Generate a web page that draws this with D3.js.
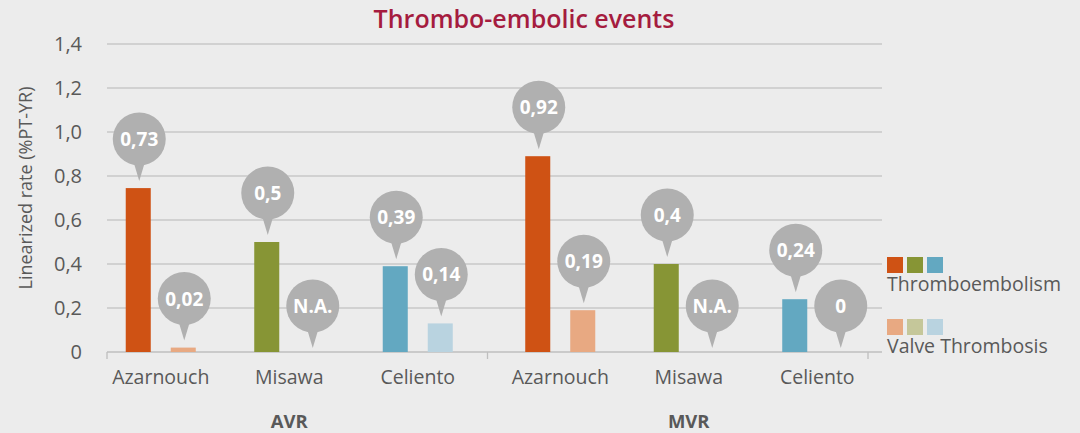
<!DOCTYPE html>
<html lang="en">
<head>
<meta charset="UTF-8" />
<title>Thrombo-embolic events</title>
<script src="https://cdn.jsdelivr.net/npm/d3@7"></script>
<style>
  body { margin: 0; background: #ececec; }
  svg { display: block; font-family: "Open Sans", sans-serif; }
  .grid line { stroke: #c9c9c9; stroke-width: 1.3; }
  .ytick text { fill: #595959; font-size: 20px; }
  .cat { fill: #595959; font-size: 19.5px; }
  .grp { fill: #595959; font-size: 18.5px; font-weight: bold; }
  .bubble text { fill: #fff; font-size: 19px; font-weight: bold; }
</style>
</head>
<body>
<script>
// data
var groups = ["AVR", "MVR"];
var studies = ["Azarnouch", "Misawa", "Celiento"];
var series = ["Thromboembolism", "Valve Thrombosis"];
// bar heights as drawn (linearized rate, %PT-YR)
var teAVR = [0.745, 0.5, 0.39];
var vtAVR = [0.02, 0, 0.13];
var teMVR = [0.89, 0.4, 0.24];
var vtMVR = [0.19, 0, 0];
// the text in the callouts
var teAVRLabels = ["0,73", "0,5", "0,39"];
var vtAVRLabels = ["0,02", "N.A.", "0,14"];
var teMVRLabels = ["0,92", "0,4", "0,24"];
var vtMVRLabels = ["0,19", "N.A.", "0"];
var yTicks = [0, 0.2, 0.4, 0.6, 0.8, 1.0, 1.2, 1.4];
var teColors = ["#cf5214", "#879535", "#63a8c1"];
var vtColors = ["#e8a982", "#c5c79a", "#b9d3e0"];

var w = 1080, h = 433;
var margin = { top: 44, right: 198, bottom: 81, left: 107 };

var svg = d3.select("body").append("svg")
  .attr("width", w)
  .attr("height", h);

var yScale = d3.scaleLinear()
  .domain([0, 1.4])
  .range([h - margin.bottom, margin.top]);

// one band per group, then one band per study inside it
var xGroup = d3.scaleBand()
  .domain(groups)
  .range([margin.left, 868]);

var xStudy = d3.scaleBand()
  .domain(studies)
  .range([0, 385.5]);

// the Excel layout leans each group's bars outward a little
var groupShift = { AVR: -8, MVR: 11 };

var xSeries = d3.scaleBand()
  .domain(series)
  .range([-45, 45])
  .paddingInner(0.444)
  .paddingOuter(0.222);

function center(g, s) {
  return xGroup(g) + (xGroup.bandwidth() - 385.5) / 2 + groupShift[g] + xStudy(s) + xStudy.bandwidth() / 2;
}

// grid lines
svg.append("g").attr("class", "grid")
  .selectAll("line")
  .data(yTicks.slice(1))
  .enter().append("line")
  .attr("x1", margin.left)
  .attr("x2", 882)
  .attr("y1", function(d) { return yScale(d); })
  .attr("y2", function(d) { return yScale(d); });

// y tick labels
svg.append("g").attr("class", "ytick")
  .selectAll("text")
  .data(yTicks)
  .enter().append("text")
  .attr("x", 82)
  .attr("y", function(d) { return yScale(d) + 7; })
  .attr("text-anchor", "end")
  .text(function(d) { return d === 0 ? "0" : d3.format(".1f")(d).replace(".", ","); });

// y axis title
svg.append("text")
  .attr("transform", "translate(32," + 188 + ") rotate(-90)")
  .attr("text-anchor", "middle")
  .attr("fill", "#595959")
  .attr("font-size", 18)
  .text("Linearized rate (%PT-YR)");

// x axis line and group ticks
var y0 = yScale(0);
svg.append("line")
  .attr("x1", margin.left).attr("x2", 882)
  .attr("y1", y0).attr("y2", y0)
  .attr("stroke", "#bfbfbf").attr("stroke-width", 1.3);

svg.selectAll(".gtick")
  .data([margin.left, xGroup("MVR"), xGroup("MVR") + xGroup.bandwidth()])
  .enter().append("line")
  .attr("class", "gtick")
  .attr("x1", function(d) { return d; })
  .attr("x2", function(d) { return d; })
  .attr("y1", y0).attr("y2", y0 + 7)
  .attr("stroke", "#bfbfbf").attr("stroke-width", 1.3);

// bars and callouts
var rows = [];
groups.forEach(function(g) {
  var te = g === "AVR" ? teAVR : teMVR;
  var vt = g === "AVR" ? vtAVR : vtMVR;
  var teL = g === "AVR" ? teAVRLabels : teMVRLabels;
  var vtL = g === "AVR" ? vtAVRLabels : vtMVRLabels;
  studies.forEach(function(s, i) {
    rows.push({ g: g, s: s, ser: series[0], v: te[i], label: teL[i], color: teColors[i] });
    rows.push({ g: g, s: s, ser: series[1], v: vt[i], label: vtL[i], color: vtColors[i] });
  });
});

svg.append("g").selectAll("rect")
  .data(rows.filter(function(d) { return d.v > 0; }))
  .enter().append("rect")
  .attr("x", function(d) { return center(d.g, d.s) + xSeries(d.ser); })
  .attr("width", xSeries.bandwidth())
  .attr("y", function(d) { return yScale(d.v); })
  .attr("height", function(d) { return y0 - yScale(d.v); })
  .attr("fill", function(d) { return d.color; });

var bubble = svg.append("g").selectAll(".bubble")
  .data(rows)
  .enter().append("g")
  .attr("class", "bubble")
  .attr("transform", function(d) {
    var cx = center(d.g, d.s) + xSeries(d.ser) + xSeries.bandwidth() / 2 + 1;
    var tip = d.v > 0 ? yScale(d.v) - 7 : y0 - 4;
    return "translate(" + cx + "," + (tip - 42) + ")";
  });

bubble.append("path")
  .attr("d", "M-6,22 L0,42 L6,22 Z")
  .attr("fill", "#b0b0b0");
bubble.append("circle")
  .attr("r", 26.5)
  .attr("fill", "#b0b0b0");
bubble.append("text")
  .attr("text-anchor", "middle")
  .attr("y", 7)
  .text(function(d) { return d.label; });

// category labels
var cats = [];
groups.forEach(function(g) { studies.forEach(function(s) { cats.push({ g: g, s: s }); }); });
svg.selectAll(".cat")
  .data(cats)
  .enter().append("text")
  .attr("class", "cat")
  .attr("x", function(d) { return center(d.g, d.s); })
  .attr("y", 384)
  .attr("text-anchor", "middle")
  .text(function(d) { return d.s; });

// group labels
svg.selectAll(".grp")
  .data(groups)
  .enter().append("text")
  .attr("class", "grp")
  .attr("x", function(d) { return center(d, studies[1]); })
  .attr("y", 428)
  .attr("text-anchor", "middle")
  .text(function(d) { return d; });

// title
svg.append("text")
  .attr("x", 524)
  .attr("y", 28)
  .attr("text-anchor", "middle")
  .attr("fill", "#a51c3f")
  .attr("font-size", 25)
  .attr("font-weight", 600)
  .text("Thrombo-embolic events");

// legend
var legend = svg.append("g").attr("transform", "translate(887,257)");
[teColors, vtColors].forEach(function(cols, r) {
  legend.selectAll(".sw" + r)
    .data(cols)
    .enter().append("rect")
    .attr("x", function(d, i) { return i * 20; })
    .attr("y", r * 62)
    .attr("width", 16)
    .attr("height", 16)
    .attr("fill", function(d) { return d; });
  legend.append("text")
    .attr("x", 0)
    .attr("y", r * 62 + 34)
    .attr("fill", "#595959")
    .attr("font-size", 19.5)
    .text(series[r]);
});
</script>
</body>
</html>
